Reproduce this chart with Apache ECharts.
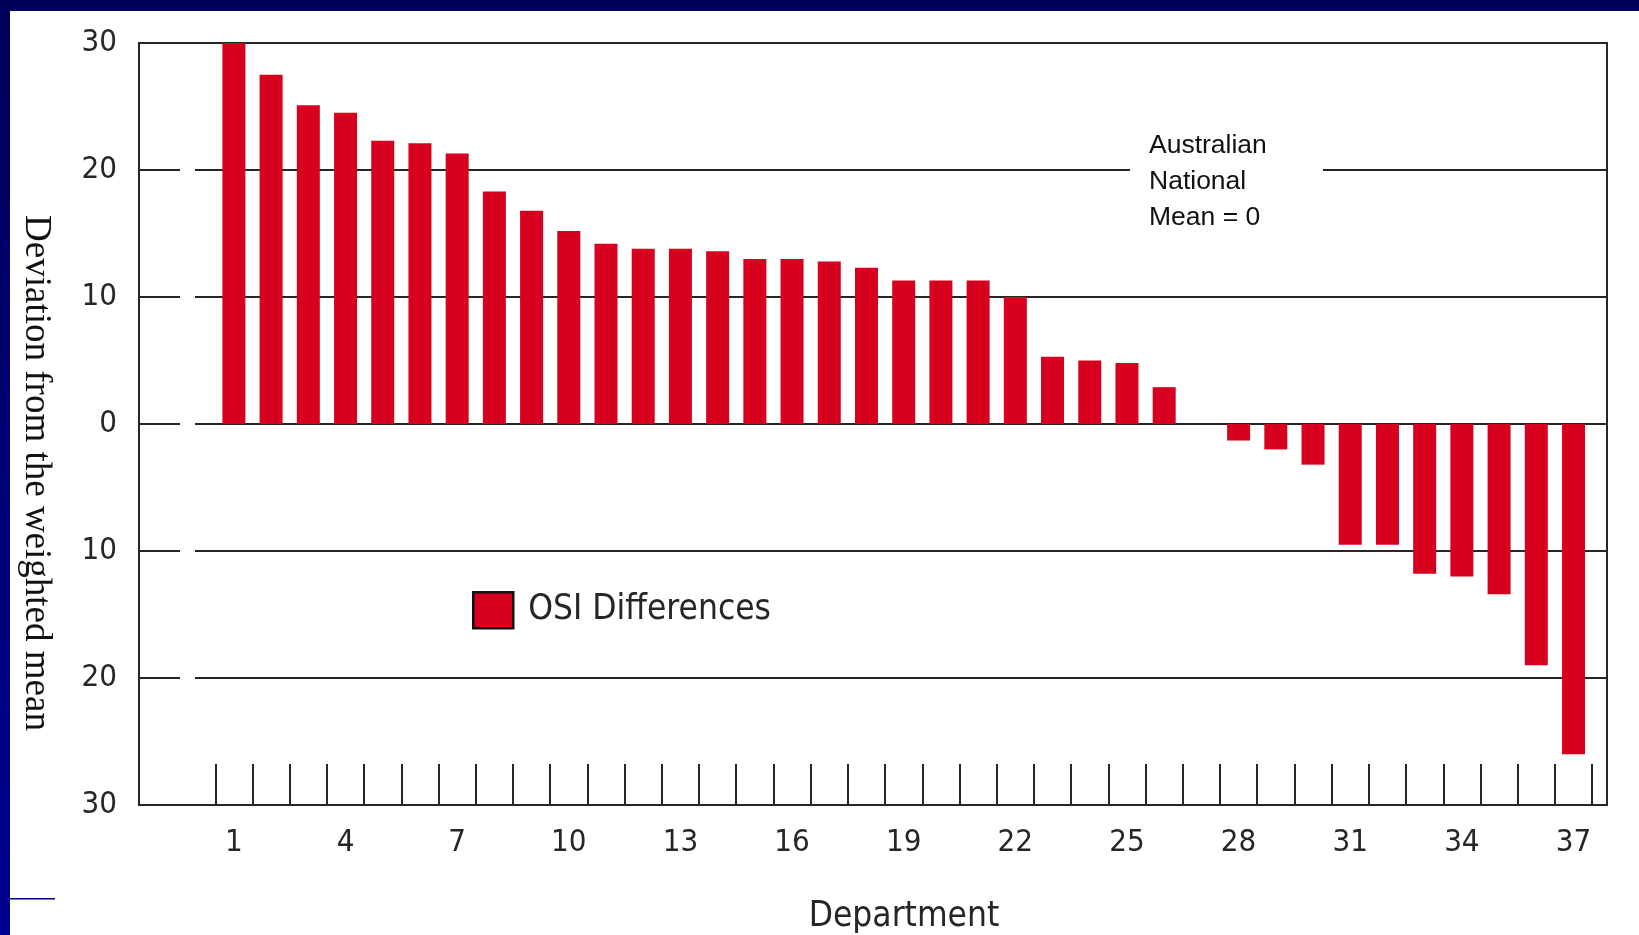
<!DOCTYPE html>
<html>
<head>
<meta charset="utf-8">
<script src="https://cdn.jsdelivr.net/npm/echarts@6/dist/echarts.min.js"></script>
<style>
  html, body { margin: 0; padding: 0; background: #ffffff; }
  #chart { width: 1639px; height: 935px; }
</style>
</head>
<body>
<div id="chart"></div>
<script>
// Departments ranked by their deviation from the weighted national mean
const departments = [1, 2, 3, 4, 5, 6, 7, 8, 9, 10, 11, 12, 13, 14, 15, 16, 17, 18, 19,
  20, 21, 22, 23, 24, 25, 26, 27, 28, 29, 30, 31, 32, 33, 34, 35, 36, 37];
const osiDifferences = [30.0, 27.5, 25.1, 24.5, 22.3, 22.1, 21.3, 18.3, 16.8, 15.2, 14.2,
  13.8, 13.8, 13.6, 13.0, 13.0, 12.8, 12.3, 11.3, 11.3, 11.3, 10.0, 5.3, 5.0, 4.8, 2.9,
  0, -1.3, -2.0, -3.2, -9.5, -9.5, -11.8, -12.0, -13.4, -19.0, -26.0];
const labelledDepartments = [1, 4, 7, 10, 13, 16, 19, 22, 25, 28, 31, 34, 37];
const seriesName = 'OSI Differences';
const xAxisTitle = 'Department';
const yAxisTitle = 'Deviation from the weighted mean';
const meanNote = 'Australian\nNational\nMean = 0';

const tickFont = "'DejaVu Sans Condensed', 'Liberation Sans Narrow', sans-serif";
const ink = '#262626';
const barRed = '#d7001e';

// tick marks sit on the boundaries between departments
const bandEdges = departments.map(d => d - 0.5).concat([departments[departments.length - 1] + 0.5]);

const chart = echarts.init(document.getElementById('chart'), null, { renderer: 'canvas' });

chart.setOption({
  backgroundColor: '#ffffff',
  animation: false,
  grid: {
    left: 139, right: 32, top: 43, height: 762,
    outerBoundsMode: 'none',
    containLabel: false,
    show: true, borderColor: ink, borderWidth: 2, backgroundColor: 'transparent'
  },
  legend: {
    left: 467, top: 586,
    itemWidth: 40, itemHeight: 36,
    icon: 'rect',
    itemStyle: { borderColor: '#111', borderWidth: 2.5 },
    textStyle: { fontFamily: tickFont, fontSize: 35, color: ink, padding: [0, 0, 0, 10] },
    data: [seriesName]
  },
  xAxis: {
    type: 'value',
    min: -1.55, max: 37.9,
    name: xAxisTitle,
    nameLocation: 'middle',
    nameGap: 94,
    nameTextStyle: { fontFamily: tickFont, fontSize: 35, color: ink, padding: [0, 0, 0, 62] },
    axisLine: { show: true, onZero: false, lineStyle: { color: ink, width: 2 } },
    axisTick: { show: true, inside: true, length: 41, customValues: bandEdges,
      lineStyle: { color: ink, width: 2 } },
    axisLabel: { customValues: labelledDepartments, margin: 22,
      fontFamily: tickFont, fontSize: 31, color: ink },
    splitLine: { show: false }
  },
  yAxis: {
    type: 'value',
    min: -30, max: 30, interval: 10,
    axisLine: { show: true, onZero: false, lineStyle: { color: ink, width: 2 } },
    axisTick: { show: false },
    axisLabel: { margin: 22, fontFamily: tickFont, fontSize: 31, color: ink,
      formatter: v => String(Math.abs(v)) },
    splitLine: { show: true, lineStyle: { color: ink, width: 2, type: [41, 15, 3000] } }
  },
  series: [{
    name: seriesName,
    type: 'bar',
    barWidth: 23,
    itemStyle: { color: barRed },
    data: departments.map((d, i) => [d, osiDifferences[i]])
  }],
  graphic: [
    // slide frame
    { type: 'rect', z: 50, shape: { x: 0, y: 0, width: 1639, height: 11 },
      style: { fill: '#00005c' } },
    { type: 'rect', z: 50, shape: { x: 0, y: 0, width: 10, height: 935 },
      style: { fill: new echarts.graphic.LinearGradient(0, 0, 0, 1, [
        { offset: 0, color: '#00005a' }, { offset: 1, color: '#00008e' }]) } },
    { type: 'rect', z: 50, shape: { x: 10, y: 898, width: 45, height: 1.5 },
      style: { fill: '#000088' } },
    // vertical axis title
    { type: 'text', z: 50, x: 36, y: 473, rotation: -Math.PI / 2,
      style: { text: yAxisTitle, fontFamily: "'Liberation Serif', 'DejaVu Serif', serif",
        fontSize: 37, fill: '#111', textAlign: 'center', textVerticalAlign: 'middle' } },
    // note about the national mean, set in a gap of the 20 line
    { type: 'rect', z: 40, shape: { x: 1130, y: 160, width: 193, height: 24 },
      style: { fill: '#ffffff' } },
    { type: 'text', z: 50, x: 1149, y: 182,
      style: { text: meanNote, fontFamily: "'Liberation Sans', Arial, sans-serif",
        fontSize: 26.5, lineHeight: 36, fill: '#111', textAlign: 'left', textVerticalAlign: 'middle' } }
  ]
});
</script>
</body>
</html>
